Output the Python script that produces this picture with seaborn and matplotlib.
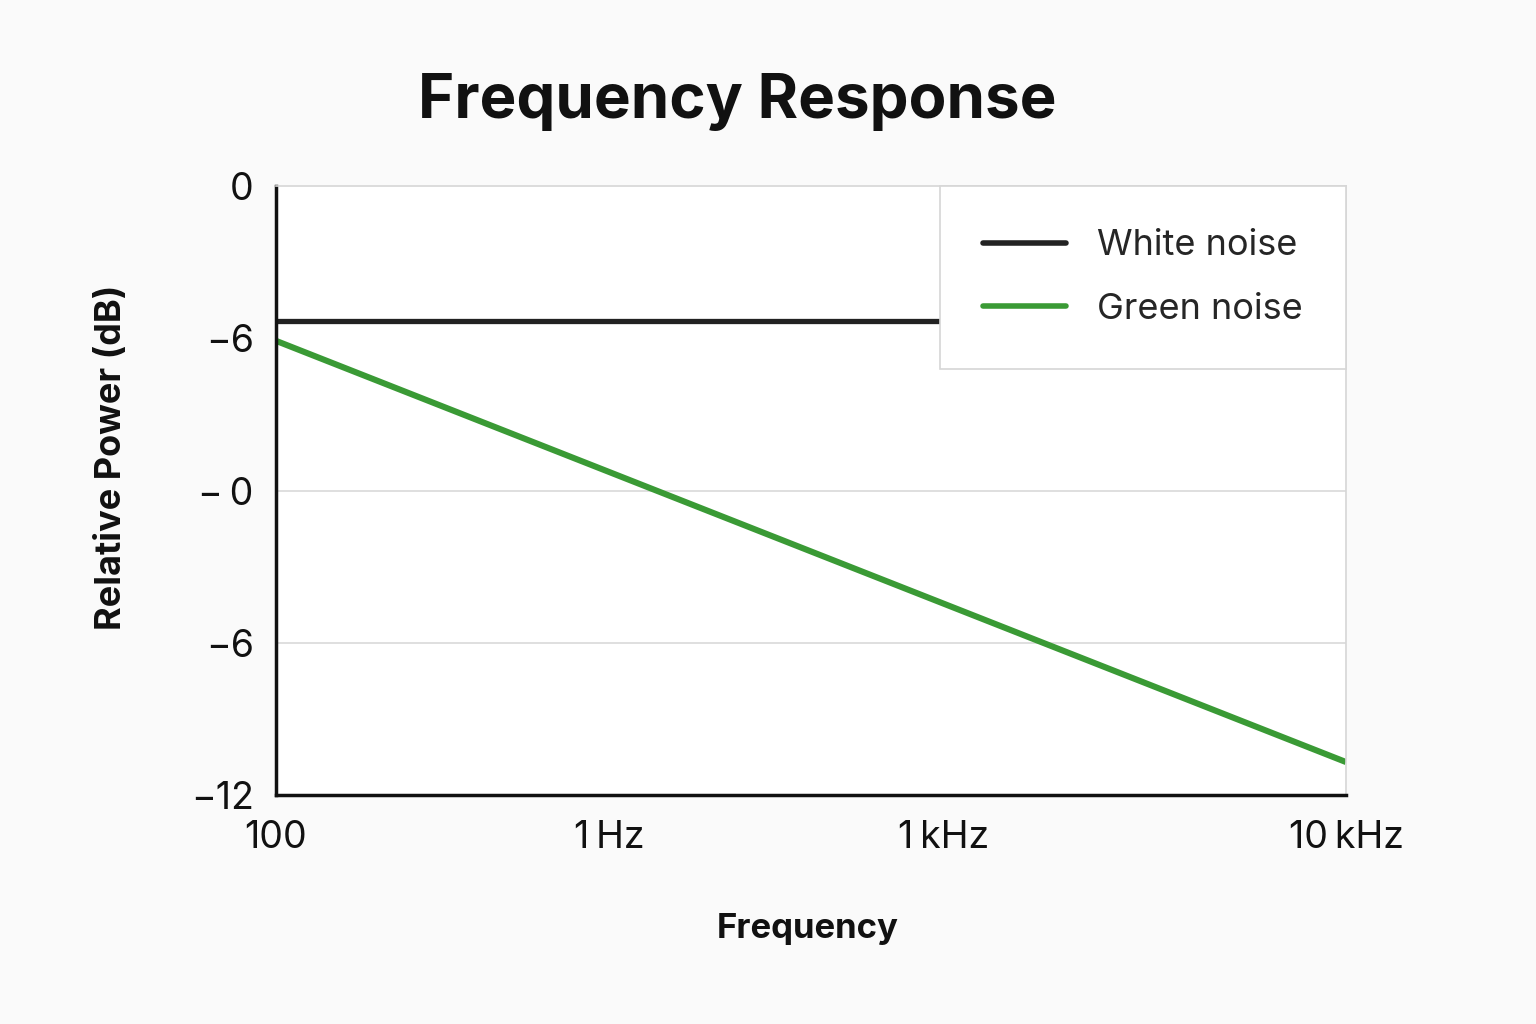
import matplotlib
matplotlib.use("Agg")
import matplotlib.pyplot as plt
import seaborn as sns
import pandas as pd

# data
freq = [100, 10000]
white_db = [-2.65, -2.65]
green_db = [-3.05, -11.35]
series = ["White noise", "Green noise"]
colors = ["#222222", "#3a9a35"]

x_ticks = [100, 420, 1770, 10000]
x_labels = ["100", "1\u2009Hz", "1\u2009kHz", "10\u2009kHz"]
y_ticks = [0, -3, -6, -9, -12]
y_labels = ["0", "\u22126", "\u2212\u20090", "\u22126", "\u221212"]

df = pd.DataFrame({
    "freq": freq * 2,
    "db": white_db + green_db,
    "series": [series[0]] * len(freq) + [series[1]] * len(freq),
})

sns.set_style("white")
plt.rcParams["font.family"] = ["Inter", "DejaVu Sans"]

fig = plt.figure(figsize=(15.36, 10.24), dpi=100, facecolor="#fafafa")
ax = fig.add_axes([0.1797, 0.2236, 0.6966, 0.5947])
ax.set_facecolor("white")

sns.lineplot(data=df, x="freq", y="db", hue="series", palette=colors,
             linewidth=4, ax=ax, legend=False)
for line, lw in zip(ax.get_lines(), [3.8, 4.4]):
    line.set_solid_capstyle("butt")
    line.set_linewidth(lw)

ax.set_xscale("log")
ax.set_xlim(100, 10000)
ax.set_ylim(-12, 0)
ax.set_xticks(x_ticks)
ax.set_xticklabels(x_labels)
ax.xaxis.set_minor_locator(matplotlib.ticker.NullLocator())
ax.set_yticks(y_ticks)
ax.set_yticklabels(y_labels)
ax.tick_params(length=0, labelsize=27, colors="#111111")
ax.tick_params(axis="y", pad=16)
ax.tick_params(axis="x", pad=18)

for y in [-6, -9]:
    ax.axhline(y, color="#d9d9d9", lw=1.2, zorder=0)

for side in ["left", "bottom"]:
    ax.spines[side].set_color("#111111")
    ax.spines[side].set_linewidth(2.5)
for side in ["top", "right"]:
    ax.spines[side].set_color("#d6d6d6")
    ax.spines[side].set_linewidth(1.2)

ax.set_xlabel("Frequency", fontsize=25, fontweight="bold", color="#111111")
ax.set_ylabel("Relative Power (dB)", fontsize=26, fontweight="bold", color="#111111")
ax.xaxis.set_label_coords(0.497, -0.194)
ax.yaxis.set_label_coords(-0.138, 0.555)

handles = [plt.Line2D([], [], color=c, lw=4, solid_capstyle="round") for c in colors]
leg = ax.legend(handles, series, loc="upper right", bbox_to_anchor=(1, 1),
                borderaxespad=0, fontsize=26, frameon=True, fancybox=False,
                framealpha=1, handlelength=2.3, handletextpad=0.85,
                borderpad=1.2, labelspacing=0.85)
leg.get_frame().set_edgecolor("#d6d6d6")
leg.get_frame().set_linewidth(1.2)
leg.set_zorder(5)

fig.text(0.48, 0.9, "Frequency Response", ha="center", va="center",
         fontsize=44.5, fontweight="bold", color="#111111")

fig.savefig("out.png", dpi=100, facecolor=fig.get_facecolor())
